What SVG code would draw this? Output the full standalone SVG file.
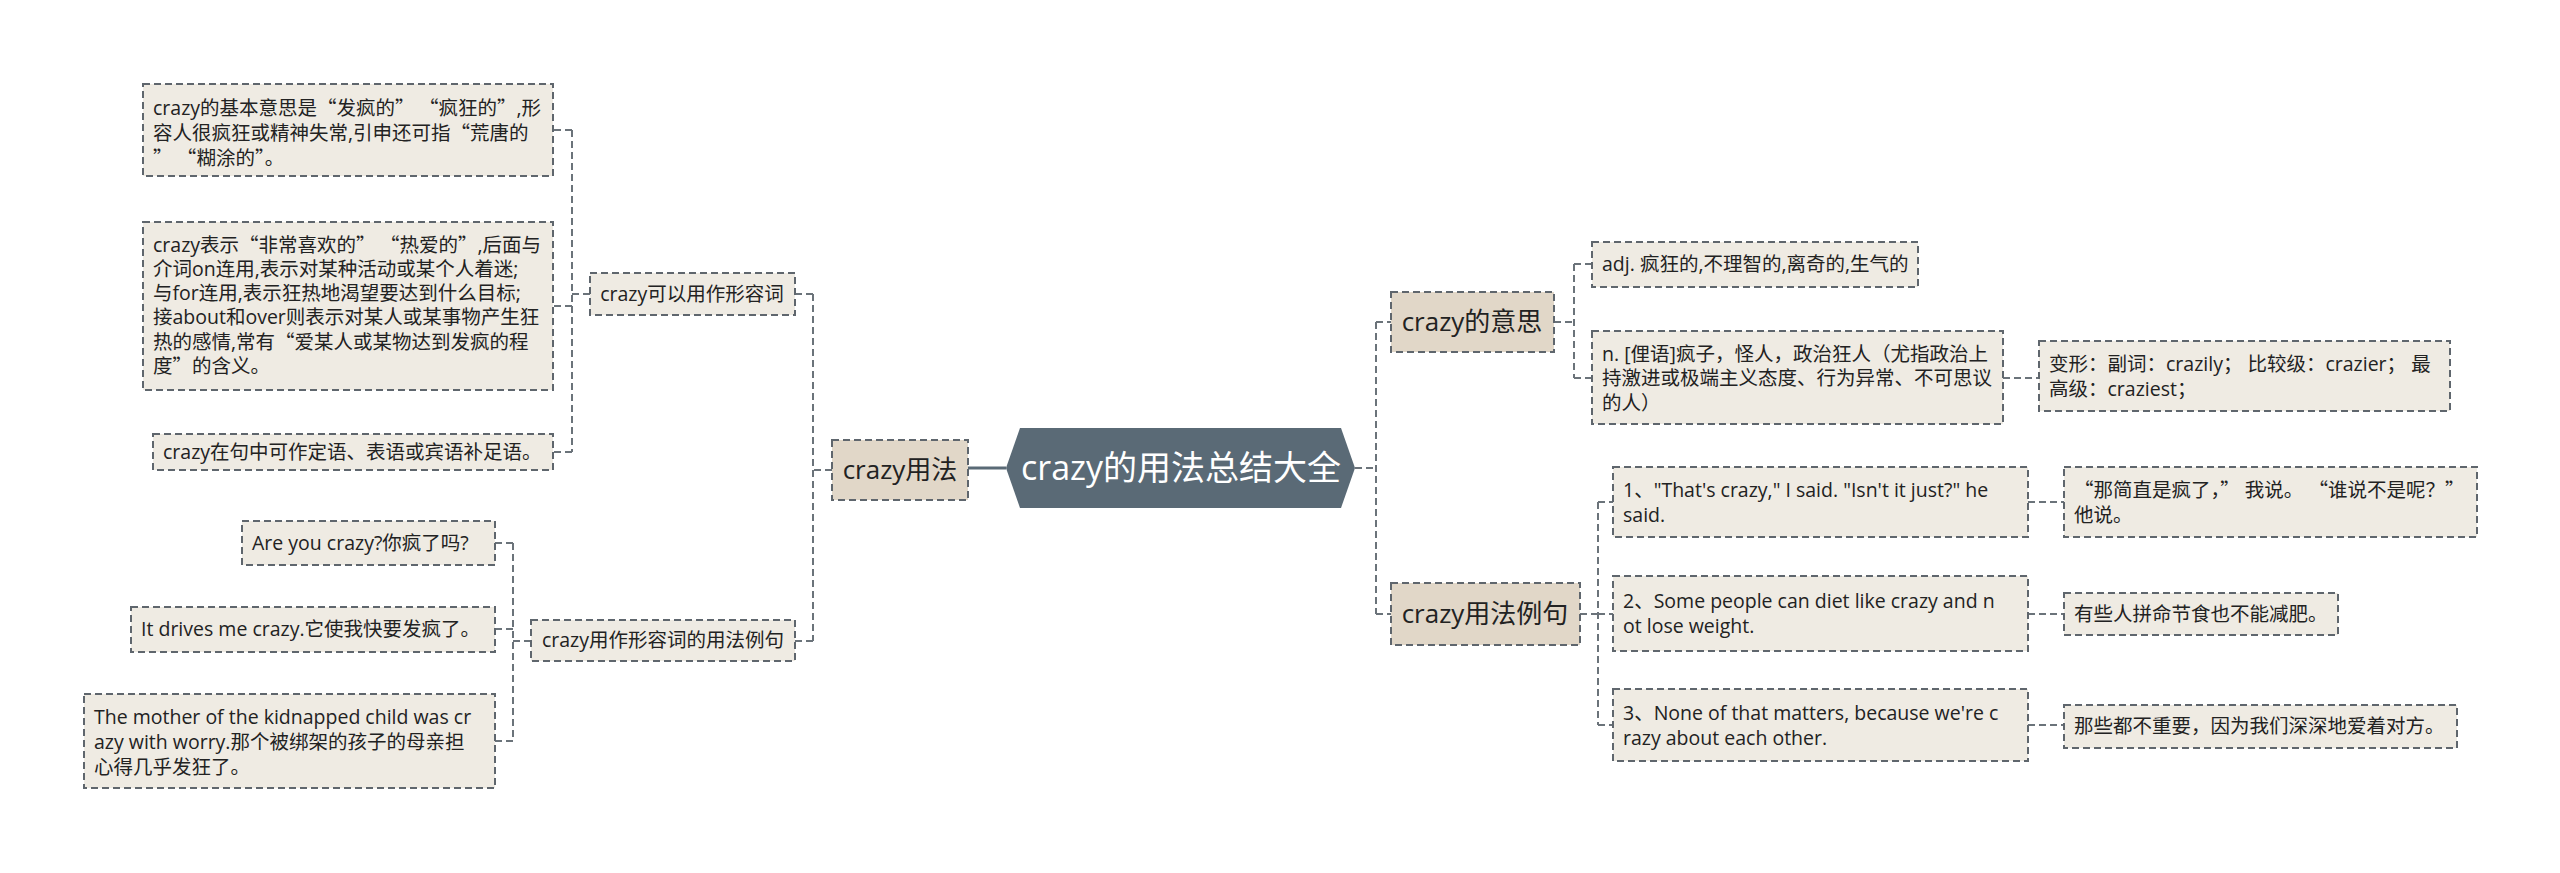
<svg xmlns="http://www.w3.org/2000/svg" width="2560" height="873" viewBox="0 0 2560 873">
<style>
text{font-family:"Open Sans","Noto Sans CJK SC",sans-serif;fill:#222;}
.t{font-size:19.5px;}
.l1t{font-size:26px;}
.ct{font-size:34px;fill:#ffffff;}
.q{font-family:"Noto Sans CJK SC",sans-serif;}
.leaf{fill:#efebe3;stroke:#5f666d;stroke-width:2;stroke-dasharray:7 4;}
.l1{fill:#e1d7c8;stroke:#5f666d;stroke-width:2;stroke-dasharray:7 4;}
.c{fill:none;stroke:#6b737a;stroke-width:2;stroke-dasharray:7 4;}
.cs{fill:none;stroke:#5a6a76;stroke-width:3;}
</style>
<rect width="2560" height="873" fill="#ffffff"/>
<g id="connectors">
<line class="cs" x1="968" y1="468" x2="1006" y2="468"/>
<path class="c" d="M832 470 H813 M813 294 V641 M813 294 H795 M813 641 H795"/>
<path class="c" d="M590 294 H572 M572 130 V452 M572 130 H553 M572 306 H553 M572 452 H553"/>
<path class="c" d="M531 641 H513 M513 543 V741 M513 543 H495 M513 629 H495 M513 741 H495"/>
<path class="c" d="M1355 468 H1376 M1376 322 V614 M1376 322 H1391 M1376 614 H1391"/>
<path class="c" d="M1554 322 H1574 M1574 264 V378 M1574 264 H1592 M1574 378 H1592"/>
<path class="c" d="M2003 378 H2039"/>
<path class="c" d="M1580 614 H1598 M1598 502 V725 M1598 502 H1613 M1598 614 H1613 M1598 725 H1613"/>
<path class="c" d="M2028 502 H2064 M2028 614 H2064 M2028 725 H2064"/>
</g>
<g id="center">
<polygon points="1006,468 1020,428 1341,428 1355,468 1341,508 1020,508" fill="#5a6a76"/>
<text class="ct" x="1181" y="480" text-anchor="middle">crazy的用法总结大全</text>
</g>
<g id="n-usage">
<rect class="l1" x="832" y="440" width="136" height="60"/>
<text class="l1t" x="900" y="479" text-anchor="middle">crazy用法</text>
</g>
<g id="n-adj">
<rect class="leaf" x="590" y="273" width="205" height="42"/>
<text class="t" x="692" y="301" text-anchor="middle">crazy可以用作形容词</text>
</g>
<g id="n-basic">
<rect class="leaf" x="143" y="84" width="410" height="92"/>
<text class="t" x="153" y="115">crazy的基本意思是<tspan class="q">“</tspan>发疯的<tspan class="q">” “</tspan>疯狂的<tspan class="q">”</tspan>,形</text>
<text class="t" x="153" y="140">容人很疯狂或精神失常,引申还可指<tspan class="q">“</tspan>荒唐的</text>
<text class="t" x="153" y="165"><tspan class="q">” “</tspan>糊涂的<tspan class="q">”</tspan>。</text>
</g>
<g id="n-like">
<rect class="leaf" x="143" y="222" width="410" height="168"/>
<text class="t" x="153" y="252">crazy表示<tspan class="q">“</tspan>非常喜欢的<tspan class="q">” “</tspan>热爱的<tspan class="q">”</tspan>,后面与</text>
<text class="t" x="153" y="276">介词on连用,表示对某种活动或某个人着迷;</text>
<text class="t" x="153" y="300">与for连用,表示狂热地渴望要达到什么目标;</text>
<text class="t" x="153" y="324">接about和over则表示对某人或某事物产生狂</text>
<text class="t" x="153" y="349">热的感情,常有<tspan class="q">“</tspan>爱某人或某物达到发疯的程</text>
<text class="t" x="153" y="373">度<tspan class="q">”</tspan>的含义。</text>
</g>
<g id="n-position">
<rect class="leaf" x="153" y="434" width="400" height="36"/>
<text class="t" x="163" y="459">crazy在句中可作定语、表语或宾语补足语。</text>
</g>
<g id="n-examples-left">
<rect class="leaf" x="531" y="620" width="264" height="41"/>
<text class="t" x="663" y="647" text-anchor="middle">crazy用作形容词的用法例句</text>
</g>
<g id="n-are-you">
<rect class="leaf" x="242" y="521" width="253" height="44"/>
<text class="t" x="252" y="550">Are you crazy?你疯了吗?</text>
</g>
<g id="n-drives">
<rect class="leaf" x="131" y="607" width="364" height="45"/>
<text class="t" x="141" y="636">It drives me crazy.它使我快要发疯了。</text>
</g>
<g id="n-mother">
<rect class="leaf" x="84" y="694" width="411" height="94"/>
<text class="t" x="94" y="724">The mother of the kidnapped child was cr</text>
<text class="t" x="94" y="749">azy with worry.那个被绑架的孩子的母亲担</text>
<text class="t" x="94" y="774">心得几乎发狂了。</text>
</g>
<g id="n-meaning">
<rect class="l1" x="1391" y="292" width="163" height="60"/>
<text class="l1t" x="1472" y="331" text-anchor="middle">crazy的意思</text>
</g>
<g id="n-adj-meaning">
<rect class="leaf" x="1592" y="242" width="326" height="45"/>
<text class="t" x="1602" y="271">adj. 疯狂的,不理智的,离奇的,生气的</text>
</g>
<g id="n-noun-meaning">
<rect class="leaf" x="1592" y="331" width="411" height="93"/>
<text class="t" x="1602" y="361">n. [俚语]疯子，怪人，政治狂人（尤指政治上</text>
<text class="t" x="1602" y="385">持激进或极端主义态度、行为异常、不可思议</text>
<text class="t" x="1602" y="410">的人）</text>
</g>
<g id="n-forms">
<rect class="leaf" x="2039" y="341" width="411" height="70"/>
<text class="t" x="2049" y="371">变形：副词：crazily； 比较级：crazier； 最</text>
<text class="t" x="2049" y="396">高级：craziest；</text>
</g>
<g id="n-examples-right">
<rect class="l1" x="1391" y="583" width="189" height="62"/>
<text class="l1t" x="1485" y="623" text-anchor="middle">crazy用法例句</text>
</g>
<g id="n-ex1">
<rect class="leaf" x="1613" y="467" width="415" height="70"/>
<text class="t" x="1623" y="497">1、"That's crazy," I said. "Isn't it just?" he</text>
<text class="t" x="1623" y="522">said.</text>
</g>
<g id="n-ex2">
<rect class="leaf" x="1613" y="576" width="415" height="75"/>
<text class="t" x="1623" y="608">2、Some people can diet like crazy and n</text>
<text class="t" x="1623" y="633">ot lose weight.</text>
</g>
<g id="n-ex3">
<rect class="leaf" x="1613" y="689" width="415" height="72"/>
<text class="t" x="1623" y="720">3、None of that matters, because we're c</text>
<text class="t" x="1623" y="745">razy about each other.</text>
</g>
<g id="n-tr1">
<rect class="leaf" x="2064" y="467" width="413" height="70"/>
<text class="t" x="2074" y="497"><tspan class="q">“</tspan>那简直是疯了，<tspan class="q">”</tspan> 我说。 <tspan class="q">“</tspan>谁说不是呢？<tspan class="q">”</tspan></text>
<text class="t" x="2074" y="522">他说。</text>
</g>
<g id="n-tr2">
<rect class="leaf" x="2064" y="593" width="274" height="42"/>
<text class="t" x="2074" y="621">有些人拼命节食也不能减肥。</text>
</g>
<g id="n-tr3">
<rect class="leaf" x="2064" y="705" width="393" height="43"/>
<text class="t" x="2074" y="733">那些都不重要，因为我们深深地爱着对方。</text>
</g>
</svg>
